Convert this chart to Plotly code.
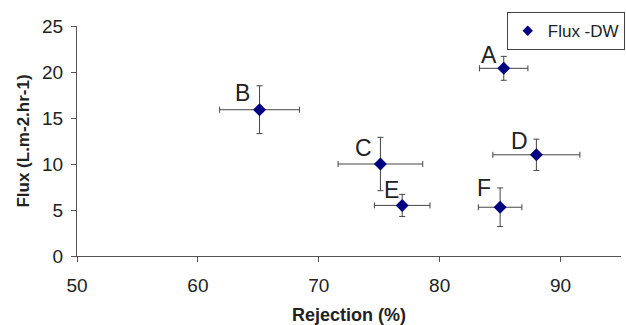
import plotly.graph_objects as go

labels = ["A", "B", "C", "D", "E", "F"]
rejection = [85.3, 65.1, 75.1, 88.0, 76.9, 85.0]
flux = [20.4, 15.9, 10.0, 11.0, 5.5, 5.3]
rej_err = [2.0, 3.3, 3.5, 3.6, 2.3, 1.8]
flux_err = [1.3, 2.6, 2.9, 1.7, 1.2, 2.1]
label_dx = [-15, -17, -17, -17, -11, -16]
label_dy = [13, 17, 16, 14, 15, 19]
series_name = "Flux -DW"

FONT = "Liberation Sans, Arial"
fig = go.Figure()
fig.add_trace(go.Scatter(
    x=rejection, y=flux, mode="markers", name=series_name, showlegend=False,
    marker=dict(symbol="diamond", size=10, color="#000080"),
    error_x=dict(type="data", array=rej_err, color="#444444", thickness=1, width=3),
    error_y=dict(type="data", array=flux_err, color="#444444", thickness=1, width=3),
))
# legend entry with smaller marker
fig.add_trace(go.Scatter(
    x=[None], y=[None], mode="markers", name=series_name,
    marker=dict(symbol="diamond", size=8, color="#000080"),
))

for lab, x, y, dx, dy in zip(labels, rejection, flux, label_dx, label_dy):
    fig.add_annotation(x=x, y=y, text=lab, showarrow=False, xshift=dx, yshift=dy,
                       font=dict(family=FONT, size=23, color="#222222"))

fig.update_layout(
    width=626, height=325,
    margin=dict(l=77, r=5, t=26, b=69, autoexpand=False),
    paper_bgcolor="white", plot_bgcolor="white",
    showlegend=True,
    legend=dict(x=0.79, y=1.06, xanchor="left", yanchor="top",
                bordercolor="#444444", borderwidth=1, bgcolor="white",
                font=dict(family=FONT, size=17, color="#222222"),
                itemwidth=30, tracegroupgap=0),
    font=dict(family=FONT, color="#222222"),
)
fig.update_xaxes(range=[50, 95], dtick=10, tick0=50, showgrid=False, zeroline=False,
                 showline=True, linecolor="#555555", linewidth=1,
                 ticks="outside", ticklen=5, tickcolor="#555555",
                 tickfont=dict(size=19, color="#222222"), ticklabelstandoff=7,
                 title=dict(text="<b>Rejection (%)</b>", font=dict(size=18, color="#222222"), standoff=14))
fig.update_yaxes(range=[0, 25], dtick=5, showgrid=False, zeroline=False,
                 showline=True, linecolor="#555555", linewidth=1,
                 ticks="outside", ticklen=5, tickcolor="#555555",
                 tickfont=dict(size=19, color="#222222"), ticklabelstandoff=4,
                 title=dict(text="<b>Flux (L.m-2.hr-1)</b>", font=dict(size=17, color="#222222"), standoff=8))

fig.write_html("out.html")
